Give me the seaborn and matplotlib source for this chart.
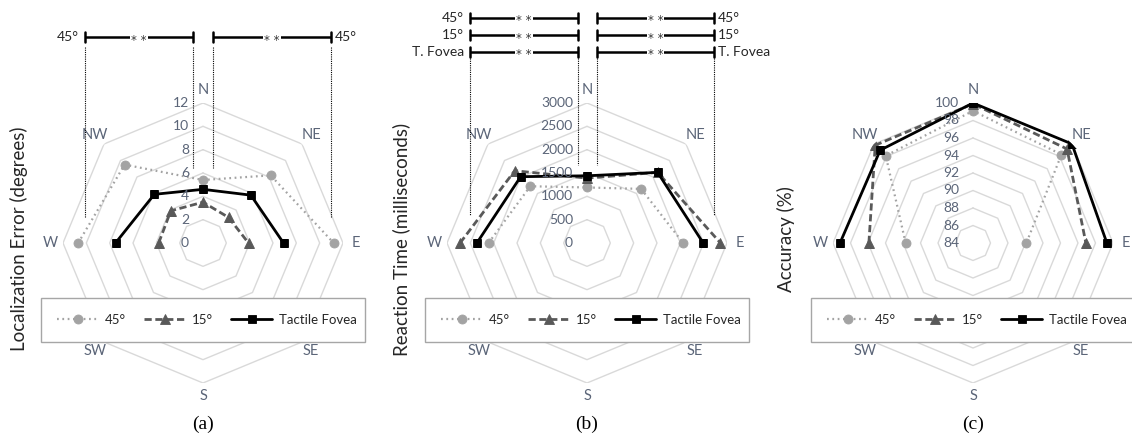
import numpy as np
import pandas as pd
import matplotlib
matplotlib.use("Agg")
import matplotlib.pyplot as plt
from matplotlib.patches import Rectangle
import seaborn as sns

sns.set_theme(style="white")
plt.rcParams['font.family'] = ['Lato', 'DejaVu Sans']

# ---------------- data ----------------
directions = ['W', 'NW', 'N', 'NE', 'E']
series_names = ['45°', '15°', 'Tactile Fovea']

loc_45 = [10.7, 9.5, 5.4, 8.2, 11.2]
loc_15 = [3.8, 3.9, 3.5, 3.1, 3.9]
loc_tf = [7.5, 5.9, 4.6, 5.8, 6.9]

rt_45 = [2110, 1720, 1190, 1640, 2060]
rt_15 = [2720, 2190, 1390, 2140, 2860]
rt_tf = [2360, 2010, 1440, 2140, 2490]

acc_45 = [91.7, 98.1, 99.1, 98.3, 90.1]
acc_15 = [95.9, 99.8, 99.9, 99.2, 96.9]
acc_tf = [99.2, 99.0, 100.0, 100.0, 99.3]

all_directions = ['N', 'NE', 'E', 'SE', 'S', 'SW', 'W', 'NW']
loc_ticks = [0, 2, 4, 6, 8, 10, 12]
rt_ticks = [0, 500, 1000, 1500, 2000, 2500, 3000]
acc_ticks = [84, 86, 88, 90, 92, 94, 96, 98, 100]

titles = ['Localization Error (degrees)', 'Reaction Time (milliseconds)', 'Accuracy (%)']
panel_tags = ['(a)', '(b)', '(c)']

# --------------- layout / style ---------------
W, H = 1132, 441
fig = plt.figure(figsize=(W / 100, H / 100), dpi=100)
fig.patch.set_facecolor('white')

centers = [203, 587, 973]
cy = 243
R = 140
grid_col = '#d9d9d9'
label_col = '#5b6578'

styles = {
    '45°': dict(color='#a3a3a3', marker='o', ms=6.5, lw=1.6, dashes=(0.8, 1.6)),
    '15°': dict(color='#595959', marker='^', ms=6.5, lw=2.0, dashes=(2.6, 1.3)),
    'Tactile Fovea': dict(color='#000000', marker='s', ms=6.0, lw=2.0, dashes=None),
}

# angle of each compass direction (clockwise from north), continuous W->E
angle_map = {'W': 1.5 * np.pi, 'NW': 1.75 * np.pi, 'N': 2.0 * np.pi,
             'NE': 2.25 * np.pi, 'E': 2.5 * np.pi}
compass_angle = {d: i * np.pi / 4 for i, d in enumerate(all_directions)}

panels = [
    (dict(zip(series_names, [loc_45, loc_15, loc_tf])), loc_ticks),
    (dict(zip(series_names, [rt_45, rt_15, rt_tf])), rt_ticks),
    (dict(zip(series_names, [acc_45, acc_15, acc_tf])), acc_ticks),
]

def fx(x):
    return x / W

def fy(y):
    return 1 - y / H

handles = None
for pi, ((sdict, ticks), cx) in enumerate(zip(panels, centers)):
    ax = fig.add_axes([fx(cx - R), fy(cy + R), 2 * R / W, 2 * R / H],
                      projection='polar')
    ax.set_theta_zero_location('N')
    ax.set_theta_direction(-1)
    ax.patch.set_alpha(0)
    rmin, rmax = ticks[0], ticks[-1]

    # octagonal grid rings
    ring_ang = np.arange(9) * np.pi / 4
    for t in ticks[1:]:
        ax.plot(ring_ang, [t] * 9, color=grid_col, lw=1.0, zorder=1)

    # series
    for name in series_names:
        st = styles[name]
        df = pd.DataFrame({'theta': [angle_map[d] for d in directions],
                           'value': sdict[name]})
        kw = dict(color=st['color'], marker=st['marker'], markersize=st['ms'],
                  markeredgecolor=st['color'], markeredgewidth=0.6,
                  linewidth=st['lw'], label=name, zorder=3)
        if st['dashes'] is not None:
            kw['dashes'] = st['dashes']
        sns.lineplot(data=df, x='theta', y='value', sort=False, estimator=None,
                     ax=ax, **kw)
    if ax.get_legend() is not None:
        ax.get_legend().remove()
    if handles is None:
        handles, labels = ax.get_legend_handles_labels()

    ax.set_ylim(rmin, rmax)
    ax.grid(False)
    ax.set_xticks([])
    ax.set_yticks([])
    ax.set_xlabel('')
    ax.set_ylabel('')
    ax.spines['polar'].set_visible(False)

    # radial tick labels (left of the N axis)
    for t in ticks:
        frac = (t - rmin) / (rmax - rmin)
        ypx = cy - frac * R
        fig.text(fx(cx - 14), fy(ypx), str(t), ha='right', va='center',
                 fontsize=10, color=label_col)

    # compass labels
    for d in all_directions:
        a = compass_angle[d]
        rr = 153
        xpx = cx + rr * np.sin(a)
        ypx = cy - rr * np.cos(a)
        fig.text(fx(xpx), fy(ypx), d, ha='center', va='center',
                 fontsize=10.5, color=label_col)

    # axis title
    title_x = [19, 401, 786][pi]
    fig.text(fx(title_x), fy(239), titles[pi], rotation=90, ha='center',
             va='center', fontsize=13.5, color='#262626')

    # panel tag
    fig.text(fx(cx), fy(424), panel_tags[pi], ha='center', va='center',
             fontsize=14, family=['Liberation Serif', 'DejaVu Serif'],
             color='black')

# ---------- overlay for significance bars and legend boxes ----------
ov = fig.add_axes([0, 0, 1, 1], zorder=10)
ov.set_xlim(0, W)
ov.set_ylim(H, 0)
ov.axis('off')
ov.patch.set_alpha(0)

def sig_bar(x0, x1, y, label, side):
    ov.plot([x0, x1], [y, y], color='black', lw=1.8, solid_capstyle='butt')
    ov.plot([x0, x0], [y - 5, y + 5], color='black', lw=1.8)
    ov.plot([x1, x1], [y - 5, y + 5], color='black', lw=1.8)
    ov.text((x0 + x1) / 2, y + 3, '* *', ha='center', va='center', fontsize=8.5,
            color='#333333', family=['DejaVu Sans'],
            bbox=dict(facecolor='white', edgecolor='none', pad=0.8))
    if side == 'left':
        ov.text(x0 - 6, y, label, ha='right', va='center', fontsize=10,
                color='#262626')
    else:
        ov.text(x1 + 4, y, label, ha='left', va='center', fontsize=10,
                color='#262626')

# panel (a)
sig_bar(85, 193, 37, '45°', 'left')
sig_bar(213, 331, 37, '45°', 'right')
for x, y1 in [(85, 217), (193, 168), (213, 168), (331, 217)]:
    ov.plot([x, x], [47, y1], color='black', lw=0.8, ls=(0, (1, 1)))

# panel (b)
for yy, lab in zip([18, 35, 52], ['45°', '15°', 'T. Fovea']):
    sig_bar(470, 578, yy, lab, 'left')
    sig_bar(597, 714, yy, lab, 'right')
for x, y1 in [(470, 215), (578, 165), (597, 165), (714, 215)]:
    ov.plot([x, x], [58, y1], color='black', lw=0.8, ls=(0, (1, 1)))

# legend boxes
for cx in centers:
    ov.add_patch(Rectangle((cx - 162, 298), 324, 44, facecolor='white',
                           edgecolor='#a6a6a6', lw=1.0, zorder=5))
    leg = fig.legend(handles, labels, loc='center',
                     bbox_to_anchor=(fx(cx + 4), fy(320)),
                     ncol=3, frameon=False, fontsize=9.5, handlelength=3.1,
                     handletextpad=0.5, columnspacing=1.4, numpoints=1)
    leg.set_zorder(30)

fig.savefig('out.png', dpi=100, facecolor='white')
